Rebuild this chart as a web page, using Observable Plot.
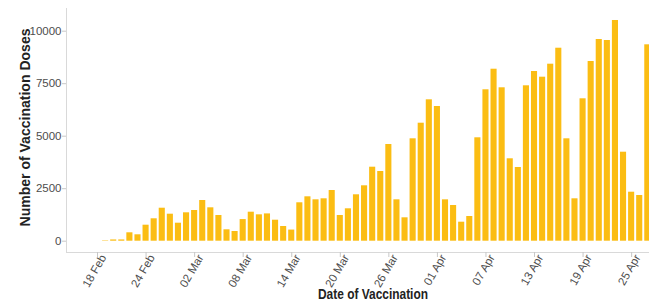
<!DOCTYPE html>
<html>
<head>
<meta charset="utf-8">
<script src="https://cdn.jsdelivr.net/npm/d3@7"></script>
<script src="https://cdn.jsdelivr.net/npm/@observablehq/plot@0.6"></script>
<style>
  html, body { margin: 0; padding: 0; background: #fff; }
  #chart svg { display: block; font-family: "Liberation Sans", Arial, sans-serif; }
  g[aria-label="x-axis tick label"] text, g[aria-label="y-axis tick label"] text { fill: #4d4d4d; }
</style>
</head>
<body>
<div id="chart"></div>
<script>
// Dates of vaccination (2021) and daily doses
const dates = [
  "2021-02-19","2021-02-20","2021-02-21","2021-02-22","2021-02-23","2021-02-24","2021-02-25","2021-02-26","2021-02-27","2021-02-28",
  "2021-03-01","2021-03-02","2021-03-03","2021-03-04","2021-03-05","2021-03-06","2021-03-07","2021-03-08","2021-03-09","2021-03-10",
  "2021-03-11","2021-03-12","2021-03-13","2021-03-14","2021-03-15","2021-03-16","2021-03-17","2021-03-18","2021-03-19","2021-03-20",
  "2021-03-21","2021-03-22","2021-03-23","2021-03-24","2021-03-25","2021-03-26","2021-03-27","2021-03-28","2021-03-29","2021-03-30",
  "2021-03-31","2021-04-01","2021-04-02","2021-04-03","2021-04-04","2021-04-05","2021-04-06","2021-04-07","2021-04-08","2021-04-09",
  "2021-04-10","2021-04-11","2021-04-12","2021-04-13","2021-04-14","2021-04-15","2021-04-16","2021-04-17","2021-04-18","2021-04-19",
  "2021-04-20","2021-04-21","2021-04-22","2021-04-23","2021-04-24","2021-04-25","2021-04-26","2021-04-27"
];
const doses = [
  20, 60, 60, 400, 305, 762, 1067, 1571, 1286, 857,
  1352, 1462, 1938, 1590, 1224, 543, 462, 1030, 1381, 1256,
  1300, 1000, 700, 530, 1829, 2114, 1971, 2019, 2414, 1224,
  1543, 2210, 2638, 3524, 3319, 4605, 1971, 1114, 4876, 5619,
  6733, 6414, 1970, 1700, 905, 1176, 4924, 7210, 8190, 7305,
  3924, 3510, 7400, 8081, 7810, 8429, 9190, 4876, 2019, 6781,
  8557, 9605, 9557, 10510, 4238, 2333, 2176, 9352
];
const xTickDates = ["2021-02-18","2021-02-24","2021-03-02","2021-03-08","2021-03-14","2021-03-20",
                    "2021-03-26","2021-04-01","2021-04-07","2021-04-13","2021-04-19","2021-04-25"];
const yTicks = [0, 2500, 5000, 7500, 10000];
const xDomain = ["2021-02-14T04:00Z", "2021-04-27T05:00Z"];
const yDomain = [-538, 11081];
const yTitle = "Number of Vaccination Doses";
const xTitle = "Date of Vaccination";

const parse = s => new Date(s.length === 10 ? s + "T00:00Z" : s);
const data = dates.map((d, i) => ({date: parse(d), value: doses[i]}));
const xd = xDomain.map(parse);
const xt = xTickDates.map(parse);

const chart = Plot.plot({
  width: 649,
  height: 307,
  marginLeft: 66,
  marginRight: 0,
  marginTop: 8,
  marginBottom: 55,
  style: {background: "#fff", fontFamily: "'Liberation Sans', Arial, sans-serif"},
  x: {type: "utc", domain: xd},
  y: {domain: yDomain},
  marks: [
    Plot.rectY(data, {
      x1: d => d3.utcHour.offset(d.date, -12),
      x2: d => d3.utcHour.offset(d.date, 12),
      y: "value",
      fill: "#fbbd13",
      insetLeft: 1,
      insetRight: 1
    }),
    Plot.ruleX([xd[0]], {stroke: "#d9d9d9", strokeWidth: 1}),
    Plot.ruleY([yDomain[0]], {stroke: "#d9d9d9", strokeWidth: 1}),
    Plot.axisY({
      ticks: yTicks, tickSize: 4, tickPadding: 1, tickFormat: d => String(d),
      label: null, fontSize: 11.5, stroke: "#c8c8c8"
    }),
    // tick marks only
    Plot.axisX({
      ticks: xt, tickSize: 5, tickFormat: () => "", label: null, stroke: "#c8c8c8"
    }),
    // tick labels, rotated
    Plot.axisX({
      ticks: xt, tickSize: 0, tickPadding: 3, tickRotate: -60, dx: 6,
      tickFormat: d3.utcFormat("%d %b"), label: null, fontSize: 11.5
    }),
    Plot.text([yTitle], {
      className: "ytitle",
      frameAnchor: "left", textAnchor: "middle", rotate: -90, dx: -41, dy: -3,
      fontWeight: "bold", fontSize: 15.5, fill: "#222"
    }),
    Plot.text([xTitle], {
      className: "xtitle",
      frameAnchor: "bottom", textAnchor: "middle", dx: 15, dy: 46,
      fontWeight: "bold", fontSize: 15, fill: "#222"
    })
  ]
});
// condense the titles horizontally to mimic the narrow title face
d3.select(chart).selectAll(".ytitle text").attr("textLength", 198).attr("lengthAdjust", "spacingAndGlyphs");
d3.select(chart).selectAll(".xtitle text").attr("textLength", 110).attr("lengthAdjust", "spacingAndGlyphs");
document.getElementById("chart").appendChild(chart);
</script>
</body>
</html>
